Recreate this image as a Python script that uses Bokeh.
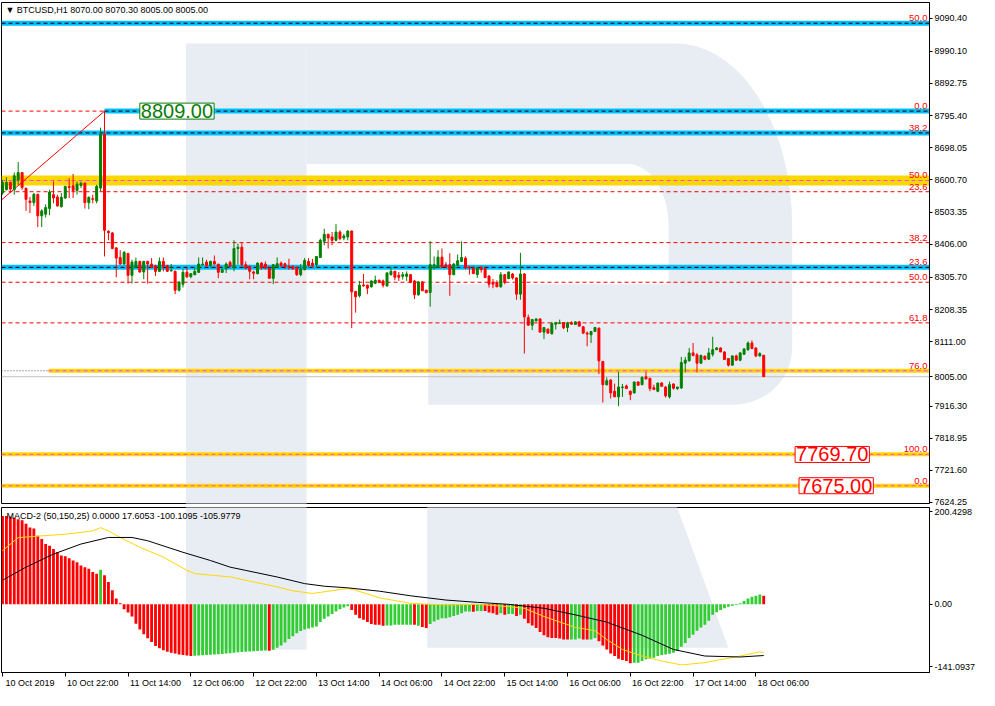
import math
from bokeh.plotting import figure
from bokeh.models import Range1d, LinearAxis, FixedTicker, Label
from bokeh.layouts import column
from bokeh.embed import file_html
from bokeh.resources import INLINE
from bokeh.core.properties import value

FONT = "Liberation Sans"

# ---------------- data: BTCUSD H1 candles (bar index 0 = 10 Oct 2019 06:00) ----------------
opens = [8561, 8571, 8593, 8571, 8601, 8623, 8575, 8537, 8532, 8557, 8492, 8497, 8514, 8556, 8549, 8520,
         8546, 8581, 8583, 8569, 8584, 8591, 8532, 8544, 8537, 8576, 8739, 8445, 8440, 8395, 8366, 8346,
         8378, 8312, 8336, 8354, 8322, 8354, 8346, 8341, 8324, 8354, 8341, 8325, 8324, 8267, 8285, 8321,
         8308, 8314, 8321, 8344, 8352, 8342, 8354, 8346, 8321, 8332, 8351, 8336, 8393, 8397, 8344, 8339,
         8322, 8317, 8349, 8346, 8334, 8303, 8338, 8349, 8347, 8339, 8339, 8336, 8314, 8329, 8354, 8349,
         8344, 8366, 8415, 8436, 8428, 8418, 8443, 8425, 8428, 8446, 8263, 8250, 8283, 8282, 8277, 8288,
         8297, 8295, 8280, 8314, 8324, 8312, 8309, 8309, 8314, 8295, 8253, 8292, 8267, 8260, 8334, 8337,
         8367, 8344, 8344, 8314, 8342, 8354, 8364, 8337, 8334, 8314, 8337, 8332, 8310, 8290, 8290, 8277,
         8314, 8302, 8316, 8304, 8255, 8316, 8184, 8161, 8174, 8180, 8140, 8149, 8135, 8164, 8166, 8169,
         8154, 8168, 8163, 8171, 8156, 8137, 8132, 8142, 8152, 8051, 7981, 7995, 7961, 7944, 7972, 7977,
         7961, 7956, 7989, 7981, 8005, 8000, 7972, 7961, 7986, 7974, 7944, 7983, 7969, 7971, 8046, 8053,
         8077, 8071, 8046, 8067, 8058, 8073, 8087, 8092, 8080, 8060, 8040, 8068, 8055, 8073, 8087, 8107,
         8092, 8068, 8070]
highs = [8601, 8609, 8596, 8623, 8655, 8625, 8578, 8549, 8561, 8559, 8512, 8527, 8571, 8596, 8556, 8561,
         8583, 8606, 8619, 8596, 8596, 8593, 8551, 8556, 8586, 8759, 8809, 8448, 8443, 8397, 8388, 8386,
         8380, 8359, 8366, 8356, 8356, 8356, 8364, 8344, 8366, 8366, 8344, 8346, 8326, 8295, 8332, 8336,
         8317, 8334, 8366, 8366, 8359, 8356, 8372, 8346, 8334, 8351, 8356, 8418, 8408, 8411, 8354, 8341,
         8326, 8351, 8352, 8354, 8336, 8346, 8366, 8354, 8350, 8362, 8342, 8338, 8346, 8364, 8364, 8362,
         8369, 8423, 8453, 8438, 8443, 8467, 8448, 8438, 8448, 8448, 8265, 8295, 8316, 8284, 8296, 8311,
         8299, 8299, 8322, 8337, 8326, 8322, 8322, 8324, 8316, 8297, 8294, 8294, 8268, 8415, 8369, 8388,
         8393, 8352, 8379, 8349, 8375, 8415, 8369, 8340, 8339, 8336, 8339, 8336, 8312, 8301, 8297, 8322,
         8316, 8324, 8319, 8306, 8380, 8319, 8193, 8179, 8181, 8181, 8155, 8151, 8171, 8171, 8178, 8170,
         8171, 8173, 8173, 8174, 8158, 8142, 8142, 8156, 8154, 8053, 8003, 7998, 7984, 8020, 7983, 7981,
         7963, 7990, 7991, 8006, 8020, 8002, 7981, 7986, 7988, 7976, 7990, 7985, 7974, 8065, 8065, 8092,
         8107, 8077, 8072, 8069, 8092, 8126, 8095, 8094, 8082, 8061, 8069, 8072, 8080, 8092, 8112, 8115,
         8094, 8079, 8070.3]
lows = [8556, 8569, 8561, 8556, 8586, 8571, 8507, 8500, 8522, 8458, 8458, 8487, 8494, 8530, 8520, 8517,
        8543, 8546, 8546, 8556, 8576, 8514, 8512, 8530, 8530, 8566, 8369, 8418, 8391, 8306, 8344, 8344,
        8287, 8287, 8334, 8320, 8300, 8287, 8334, 8310, 8322, 8324, 8322, 8324, 8255, 8263, 8275, 8305,
        8303, 8312, 8319, 8342, 8336, 8336, 8344, 8303, 8319, 8319, 8336, 8324, 8344, 8339, 8330, 8300,
        8300, 8315, 8329, 8330, 8301, 8285, 8334, 8335, 8332, 8329, 8328, 8310, 8309, 8327, 8336, 8334,
        8336, 8365, 8403, 8393, 8403, 8415, 8418, 8418, 8418, 8152, 8199, 8245, 8277, 8255, 8275, 8285,
        8290, 8275, 8277, 8311, 8297, 8295, 8299, 8295, 8290, 8240, 8250, 8265, 8257, 8217, 8329, 8335,
        8335, 8336, 8250, 8312, 8340, 8352, 8330, 8314, 8317, 8304, 8320, 8304, 8275, 8273, 8277, 8275,
        8285, 8300, 8299, 8238, 8238, 8075, 8160, 8146, 8172, 8139, 8119, 8135, 8133, 8148, 8165, 8149,
        8140, 8163, 8162, 8158, 8134, 8097, 8107, 8140, 8013, 7927, 7978, 7939, 7944, 7916, 7944, 7969,
        7934, 7954, 7979, 7979, 7998, 7961, 7966, 7958, 7976, 7942, 7939, 7966, 7965, 7968, 8018, 8051,
        8067, 8018, 8044, 8055, 8056, 8066, 8085, 8080, 8057, 8036, 8038, 8054, 8052, 8071, 8083, 8090,
        8064, 8066, 8005]
closes = [8593, 8593, 8573, 8613, 8623, 8578, 8542, 8532, 8557, 8492, 8507, 8517, 8564, 8546, 8522, 8548,
          8581, 8578, 8569, 8588, 8591, 8532, 8548, 8542, 8581, 8739, 8448, 8441, 8393, 8364, 8346, 8381,
          8312, 8352, 8354, 8322, 8354, 8346, 8336, 8324, 8354, 8339, 8324, 8327, 8267, 8290, 8321, 8307,
          8317, 8324, 8346, 8346, 8342, 8354, 8346, 8321, 8329, 8346, 8339, 8393, 8397, 8344, 8334, 8324,
          8318, 8349, 8334, 8334, 8303, 8344, 8347, 8342, 8337, 8336, 8332, 8314, 8332, 8357, 8342, 8342,
          8369, 8418, 8436, 8425, 8418, 8443, 8423, 8431, 8446, 8262, 8247, 8282, 8280, 8273, 8295, 8297,
          8290, 8282, 8319, 8324, 8306, 8306, 8314, 8316, 8290, 8253, 8292, 8265, 8260, 8344, 8344, 8367,
          8336, 8337, 8314, 8346, 8356, 8366, 8334, 8334, 8317, 8334, 8329, 8305, 8285, 8285, 8277, 8314,
          8290, 8322, 8304, 8255, 8316, 8186, 8161, 8178, 8180, 8140, 8154, 8137, 8166, 8168, 8168, 8153,
          8168, 8164, 8171, 8158, 8137, 8134, 8142, 8154, 8053, 7981, 7993, 7956, 7944, 7974, 7974, 7969,
          7951, 7989, 7979, 8003, 7998, 7969, 7966, 7986, 7976, 7947, 7981, 7970, 7974, 8048, 8055, 8077,
          8069, 8046, 8069, 8058, 8077, 8087, 8092, 8080, 8057, 8040, 8068, 8055, 8077, 8089, 8107, 8090,
          8068, 8075, 8005]

# MACD-2 (50,150,25) histogram, one value per bar, and its colour flag (g = rising, r = falling)
hist = [183, 183, 182, 179, 176, 174, 167, 159, 157, 142, 135, 125, 121, 114.5, 108, 101,
        99.5, 95.5, 90.7, 87.3, 80.4, 77, 73.6, 66.8, 63.4, 71.6, 60, 46.4, 29.3, 12.3, 2, -10.2,
        -17, -25, -40, -52, -62, -70, -78, -86, -91, -95, -98, -100, -102, -104, -105, -106,
        -107, -106.5, -106, -105.5, -105, -104.5, -104, -103.5, -103, -102, -101, -100, -99, -98.5, -98, -97.5,
        -97, -96.5, -96, -95.5, -96, -94, -90, -85, -79, -72, -66, -60, -55, -52, -50, -48,
        -45.7, -36.8, -30, -25.2, -19.8, -15, -10.2, -6.8, -4.1, -11.6, -21.8, -28.6, -32, -36.8, -40.9, -42.3,
        -42.3, -44.3, -44.0, -43.6, -42.3, -42.3, -42.3, -42.3, -42.3, -42.5, -44.3, -47, -49.1, -40.9, -35.4, -32,
        -28.6, -28.6, -26.6, -23.9, -21.8, -18.4, -15, -15, -15.2, -13.6, -13.6, -13.6, -17, -18.4, -21.8, -18.4,
        -21.8, -19.8, -19.8, -23.9, -21.8, -30, -38.9, -43.6, -49.1, -57.3, -64.1, -68.2, -69.5, -69.5, -70.9, -72.9,
        -72.9, -72.9, -72.9, -70.9, -72.9, -72.9, -72.9, -69.5, -76.4, -85.2, -93.4, -101.6, -107, -112.5, -115.2, -117.3,
        -122, -120.7, -120.7, -117.3, -113.8, -112.5, -110.4, -107, -105, -103.6, -102.3, -100.2, -96.8, -87.9, -79.8, -69.5,
        -62.7, -54.5, -47.7, -42.3, -34.1, -21.8, -16.4, -11.6, -8.2, -4.8, -2.7, -1.4, 2, 6.8, 12.3, 15.7,
        17.7, 20.5, 17.6]
hist_flags = ("rrrrrrrrrrrrrrrrrrrrrrrrr" "g" "rrrrrrrrrrrrrrrrrrrrrrr" "ggggggggggggggggggg" "r"
              "gggggggggggggggggggg" "rrrrrrrrr" "ggggggg" "r" "g" "rr" "ggggggggggg" "r" "gg" "rrrr"
              "g" "r" "gg" "r" "g" "rrrrrrrrrrrr" "ggg" "rr" "gg" "rrrrrrrrr"
              "ggggggggggggggggggggggggggggggggg" "r")

# MACD main line (yellow) and signal line (black), read at these bar indices
macd_bar = [0, 4, 10, 16, 23, 25, 27, 30, 35, 41, 47, 49, 58, 64, 70, 74, 79, 88, 90, 96, 104, 113,
            121, 129, 133, 138, 146, 151, 154, 158, 163, 168, 173, 179, 188, 193, 194]
macd_val = [111, 138, 141.8, 145, 152, 158.8, 152, 138.4, 118, 97.8, 70.5, 63.6, 56.8, 46.4, 36.1, 27.9,
            22.5, 32.7, 29.3, 13.6, 2, -1.4, 0, -4.8, -8.2, -25.2, -47.7, -54.5, -72.9, -93.4, -107, -117.3,
            -125.4, -120.7, -107, -98.2, -100.1]
signal_bar = [0, 6, 13, 20, 27, 33, 37, 46, 53, 58, 62, 70, 77, 82, 88, 96, 104, 113, 121, 129, 138,
              146, 154, 163, 171, 179, 188, 194]
signal_val = [49.8, 77, 104, 124.8, 138.4, 138.4, 131.6, 107.7, 90.7, 77, 70.2, 56.6, 42.9, 37.5, 34.1,
              27.3, 17.7, 8.9, 4.1, 0, -8.2, -21.8, -36.8, -64.1, -93.4, -107, -109, -106]

# time axis
time_label_bars = [0, 16, 32, 48, 64, 80, 96, 112, 128, 144, 160, 176, 192]
time_labels = ["10 Oct 2019", "10 Oct 22:00", "11 Oct 14:00", "12 Oct 06:00", "12 Oct 22:00",
               "13 Oct 14:00", "14 Oct 06:00", "14 Oct 22:00", "15 Oct 14:00", "16 Oct 06:00",
               "16 Oct 22:00", "17 Oct 14:00", "18 Oct 06:00"]
price_ticks = [9090.40, 8990.10, 8892.75, 8795.40, 8698.05, 8600.70, 8503.35, 8406.00, 8305.70,
               8208.35, 8111.00, 8005.00, 7916.30, 7818.95, 7721.60, 7624.25]
price_tick_labels = ["9090.40", "8990.10", "8892.75", "8795.40", "8698.05", "8600.70", "8503.35", "8406.00",
                     "8305.70", "8208.35", "8111.00", "8005.00", "7916.30", "7818.95", "7721.60", "7624.25"]

# drawn levels (Fibonacci objects)
blue_level_price = [9075, 8809, 8743, 8336]
blue_level_from_bar = [None, 26, None, None]
yellow_level_price = [8599, 8023, 7770, 7675]
yellow_level_from_bar = [None, 11.75, None, None]
red_level_price = [8565, 8411, 8291, 8168]
fib_text = ["50.0", "0.0", "38.2", "50.0", "23.6", "38.2", "23.6", "50.0", "61.8", "76.0", "100.0", "0.0"]
fib_price = [9075, 8809, 8743, 8599, 8565, 8411, 8336, 8291, 8168, 8023, 7770, 7675]
high_label_price = 8809.00
target_prices = [7769.70, 7675.00]
bid_price = 8005.00
trend_from = (-0.25, 8540)
trend_to = (26, 8809)

# ---------------- geometry ----------------
X0, X1 = -0.25, 236.25
P_LO, P_HI = 7621.2, 9137.8
M_LO, M_HI = -141.0937, 200.4298
W = 979
RB = 50
WM = "#E8ECF3"


def wx(px):
    return (px - 3) / 4.0


def wy(py):
    return 9090.4 - (py - 18) * 2.962


def wm(py):
    return (616 - py) * 2.045


def arc(cx, cy, rx, ry, a0, a1, n=18):
    pts = []
    for k in range(n + 1):
        t = math.radians(a0 + (a1 - a0) * k / n)
        pts.append((cx + rx * math.cos(t), cy - ry * math.sin(t)))
    return pts


def style_axis(ax):
    ax.major_label_text_font = FONT
    ax.major_label_text_font_size = "9px"
    ax.major_label_text_color = "black"
    ax.minor_tick_line_color = None
    ax.axis_line_color = "black"
    ax.major_tick_line_color = "black"


# ---------------- main price panel ----------------
p = figure(width=W, height=506, x_range=Range1d(X0, X1), y_range=Range1d(P_LO, P_HI),
           output_backend="svg", toolbar_location=None, x_axis_location=None, y_axis_location=None,
           min_border_left=1, min_border_right=RB, min_border_top=2, min_border_bottom=3)
p.outline_line_color = "black"
p.outline_line_width = 1
p.grid.grid_line_color = None
p.background_fill_color = "white"
p.border_fill_color = "white"

yax = LinearAxis(ticker=FixedTicker(ticks=price_ticks),
                 major_label_overrides={t: s for t, s in zip(price_ticks, price_tick_labels)})
style_axis(yax)
yax.major_tick_out = 3
yax.major_tick_in = 0
yax.major_label_standoff = 2
p.add_layout(yax, "right")

# watermark logo
p.quad(left=wx(190), right=wx(313), top=wy(44), bottom=P_LO - 50, fill_color=WM, line_color=None)
bowl = [(313, 44)]
bowl += arc(690, 230, 118, 186, 90, 0)
bowl += arc(748, 355, 60, 58, 0, -90)
bowl += [(437, 413), (437, 290), (682, 290)]
bowl += arc(640, 230, 42, 63, 0, 90)
bowl += [(313, 167)]
p.patch([wx(a) for a, b in bowl], [wy(b) for a, b in bowl], fill_color=WM, line_color=None)

# levels
bx0 = [X0 if b is None else b for b in blue_level_from_bar]
p.segment(x0=bx0, y0=blue_level_price, x1=[X1] * len(bx0), y1=blue_level_price,
          line_color="#00BFFF", line_width=5)
p.segment(x0=bx0, y0=blue_level_price, x1=[X1] * len(bx0), y1=blue_level_price,
          line_color="black", line_width=1, line_dash="4 3")
yx0 = [X0 if b is None else b for b in yellow_level_from_bar]
p.segment(x0=yx0, y0=yellow_level_price, x1=[X1] * len(yx0), y1=yellow_level_price,
          line_color="#FFD700", line_width=[10, 4, 4, 4])
p.segment(x0=yx0, y0=yellow_level_price, x1=[X1] * len(yx0), y1=yellow_level_price,
          line_color="#FF40FF", line_width=1, line_dash="4 3")
p.segment(x0=[X0] * len(red_level_price), y0=red_level_price, x1=[X1] * len(red_level_price),
          y1=red_level_price, line_color="#FF0000", line_width=1, line_dash="4 3")
p.segment(x0=[X0], y0=[high_label_price], x1=[trend_to[0]], y1=[high_label_price],
          line_color="#FF0000", line_width=1, line_dash="4 3")
p.segment(x0=[X0], y0=[yellow_level_price[1]], x1=[yellow_level_from_bar[1]], y1=[yellow_level_price[1]],
          line_color="#555555", line_width=1, line_dash="1 2")
p.segment(x0=[X0], y0=[bid_price], x1=[X1], y1=[bid_price], line_color="#C0C0C0", line_width=1)
p.line([trend_from[0], trend_to[0]], [trend_from[1], trend_to[1]], line_color="#FF0000", line_width=1)

# candles
idx = list(range(len(closes)))
ccol = ["#008000" if c >= o else "#FF0000" for o, c in zip(opens, closes)]
p.segment(x0=idx, y0=highs, x1=idx, y1=lows, line_color=ccol, line_width=1)
p.vbar(x=idx, width=0.5, top=[max(o, c) for o, c in zip(opens, closes)],
       bottom=[min(o, c) for o, c in zip(opens, closes)], fill_color=ccol, line_color=ccol, line_width=1)

# level labels
p.text(x=[X1] * len(fib_text), y=fib_price, text=fib_text, text_align="right", text_baseline="alphabetic",
       x_offset=-2, y_offset=-5, text_font=value(FONT), text_font_size="9.5px", text_color="#FF0000")

p.add_layout(Label(x=35.0, y=high_label_price, text="8809.00", text_font=FONT, text_font_size="20px",
                   text_color="#0A7D0A", text_baseline="middle", border_line_color="#0A7D0A",
                   border_line_width=1, background_fill_color="white", padding=1))
for xb, pr in zip([202.0, 203.0], target_prices):
    p.add_layout(Label(x=xb, y=pr, text=f"{pr:.2f}", text_font=FONT, text_font_size="20px",
                       text_color="#FF0000", text_baseline="middle", border_line_color="#FF0000",
                       border_line_width=1, background_fill_color="white", padding=1))
p.add_layout(Label(x=0.75, y=9114, text="\u25BC BTCUSD,H1  8070.00 8070.30 8005.00 8005.00",
                   text_font=FONT, text_font_size="9px", text_color="black", text_baseline="middle"))

# ---------------- MACD panel ----------------
m = figure(width=W, height=184, x_range=p.x_range, y_range=Range1d(M_LO, M_HI),
           output_backend="svg", toolbar_location=None, x_axis_location=None, y_axis_location=None,
           min_border_left=1, min_border_right=RB, min_border_top=1, min_border_bottom=2)
m.outline_line_color = "black"
m.outline_line_width = 1
m.grid.grid_line_color = None
m.background_fill_color = "white"
m.border_fill_color = "white"

m_ticks = [191.2, 0, -128.8]
may = LinearAxis(ticker=FixedTicker(ticks=m_ticks),
                 major_label_overrides={191.2: "200.4298", 0: "0.00", -128.8: "-141.0937"})
style_axis(may)
may.major_tick_out = 3
may.major_tick_in = 0
may.major_label_standoff = 2
m.add_layout(may, "right")

tick_axis = LinearAxis(ticker=FixedTicker(ticks=time_label_bars),
                       major_label_overrides={b: "" for b in time_label_bars})
style_axis(tick_axis)
tick_axis.major_label_text_font_size = "0px"
tick_axis.major_tick_out = 4
tick_axis.major_tick_in = 0
tick_axis.major_label_standoff = 0
m.add_layout(tick_axis, "below")

lab_pos = [b + 7 for b in time_label_bars]
lab_axis = LinearAxis(ticker=FixedTicker(ticks=lab_pos),
                      major_label_overrides={b: t for b, t in zip(lab_pos, time_labels)})
style_axis(lab_axis)
lab_axis.axis_line_color = None
lab_axis.major_tick_line_color = None
lab_axis.major_tick_out = 0
lab_axis.major_tick_in = 0
lab_axis.major_label_standoff = 1
m.add_layout(lab_axis, "below")

# watermark parts
m.quad(left=wx(190), right=wx(313), top=M_HI + 10, bottom=wm(662), fill_color=WM, line_color=None)
leg = [(436, 510), (688, 510), (743, 660), (436, 660)]
m.patch([wx(a) for a, b in leg], [wm(b) for a, b in leg], fill_color=WM, line_color=None)

hcol = ["#32CD32" if f == "g" else "#FF0000" for f in hist_flags]
m.vbar(x=idx, width=0.72, top=[max(h, 0) for h in hist], bottom=[min(h, 0) for h in hist],
       fill_color=hcol, line_color=None)
m.line(macd_bar, macd_val, line_color="#FFD700", line_width=1)
m.line(signal_bar, signal_val, line_color="black", line_width=1)
m.add_layout(Label(x=1.0, y=182, text="MACD-2 (50,150,25) 0.0000 17.6053 -100.1095 -105.9779",
                   text_font=FONT, text_font_size="9px", text_color="black", text_baseline="middle"))

layout = column(p, m, spacing=0)
open("out.html", "w").write(file_html(layout, INLINE))
